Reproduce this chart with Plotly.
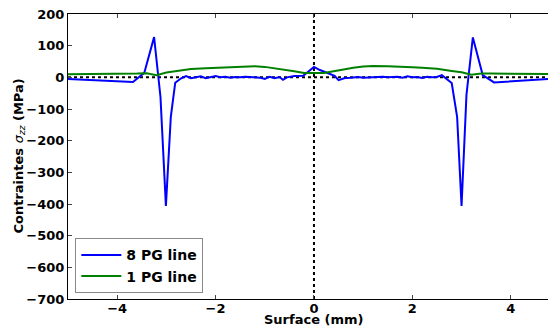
import plotly.graph_objects as go

# 8 PG line (blue)
x_8pg = [-5.0, -3.68, -3.45, -3.25, -3.12, -3.01, -2.91, -2.82, -2.7, -2.6, -2.5, -2.4, -2.3,
         -2.2, -2.1, -2.0, -1.9, -1.8, -1.7, -1.6, -1.5, -1.4, -1.3, -1.2, -1.1, -1.0,
         -0.9, -0.8, -0.7, -0.63, -0.55, -0.4, -0.22, -0.1, 0.0,
         0.12, 0.33, 0.42, 0.5, 0.63, 0.75, 0.9, 1.0, 1.1, 1.2, 1.3, 1.4, 1.5, 1.6, 1.7,
         1.8, 1.9, 2.0, 2.1, 2.2, 2.3, 2.4, 2.5, 2.6, 2.8, 2.91, 3.0, 3.1, 3.23, 3.43,
         3.66, 4.92]
y_8pg = [-5, -15, 14, 127, -62, -406, -125, -17, -3, 4, -3, 1, 3, -3, 1, 4, 0, 2, -1, 1,
         0, 2, 1, 0, -1, -5, 2, -3, 1, -8, 0, 4, 5, 20, 33,
         23, 9, 5, -9, -2, -1, 1, -1, 0, 1, 0, 2, 0, 1, 2,
         -1, 3, 0, 1, -2, 2, 0, 1, 7, -18, -125, -406, -55, 126, 7,
         -16, -4]

# 1 PG line (green)
x_1pg = [-5.0, -4.5, -4.0, -3.6, -3.4, -3.2, -3.0, -2.8, -2.5, -2.2, -2.0, -1.8, -1.5, -1.2,
         -1.0, -0.8, -0.6, -0.4, -0.2, 0.0, 0.2, 0.4, 0.6, 0.8, 1.0, 1.2, 1.5, 1.8, 2.0,
         2.2, 2.5, 2.8, 3.0, 3.2, 3.4, 3.6, 4.0, 4.5, 4.92]
y_1pg = [10, 10, 11, 12, 13, 7, 15, 20, 26, 29, 30, 31, 33, 35, 33, 29, 25, 19, 14, 13,
         14, 19, 25, 30, 34, 36, 35, 34, 32, 30, 27, 20, 16, 8, 12, 12, 11, 10, 10]

y_ticks = [200, 100, 0, -100, -200, -300, -400, -500, -600, -700]
x_ticks = [-4, -2, 0, 2, 4]

x_title = "Surface (mm)"
y_title = "Contraintes <span style='font-weight:normal'><i>σ<sub>zz</sub></i></span> (MPa)"

fig = go.Figure()
fig.add_trace(go.Scatter(x=x_8pg, y=y_8pg, mode="lines", name="8 PG line",
                         line=dict(color="#0000ff", width=2)))
fig.add_trace(go.Scatter(x=x_1pg, y=y_1pg, mode="lines", name="1 PG line",
                         line=dict(color="#008000", width=2)))

fig.add_shape(type="line", xref="paper", yref="y", x0=0, x1=1, y0=0, y1=0,
              line=dict(color="black", width=2, dash="dot"), layer="below")
fig.add_shape(type="line", xref="x", yref="paper", x0=0, x1=0, y0=0, y1=1,
              line=dict(color="black", width=2, dash="dot"), layer="below")

font_bold = dict(family="DejaVu Sans", size=13, color="black", weight="bold")

fig.add_annotation(text=x_title, xref="x", yref="paper", x=0, y=0,
                   xanchor="center", yanchor="middle", yshift=-20,
                   showarrow=False, font=font_bold)
fig.add_annotation(text=y_title, xref="paper", yref="paper", x=0, y=0.5,
                   xanchor="center", yanchor="middle", xshift=-49, textangle=-90,
                   showarrow=False, font=font_bold)

fig.update_layout(
    width=548, height=321,
    margin=dict(l=60, r=0, t=6, b=30),
    paper_bgcolor="white", plot_bgcolor="white",
    showlegend=True,
    legend=dict(x=0.015, y=0.02, xanchor="left", yanchor="bottom",
                bgcolor="white", bordercolor="#888888", borderwidth=1,
                font=dict(family="DejaVu Sans", size=14, color="black", weight="bold"),
                itemwidth=40),
    xaxis=dict(range=[-5, 4.92], tickvals=x_ticks, ticks="inside", ticklen=4,
               showgrid=False, zeroline=False, showline=True, linecolor="black",
               linewidth=1, mirror="ticks", tickfont=font_bold,
               ticklabeloverflow="allow", ticklabelstandoff=-3),
    yaxis=dict(range=[-700, 200], tickvals=y_ticks, ticks="inside", ticklen=4,
               showgrid=False, zeroline=False, showline=True, linecolor="black",
               linewidth=1, mirror="ticks", tickfont=font_bold,
               ticklabeloverflow="allow"),
)

fig.write_html("out.html")
